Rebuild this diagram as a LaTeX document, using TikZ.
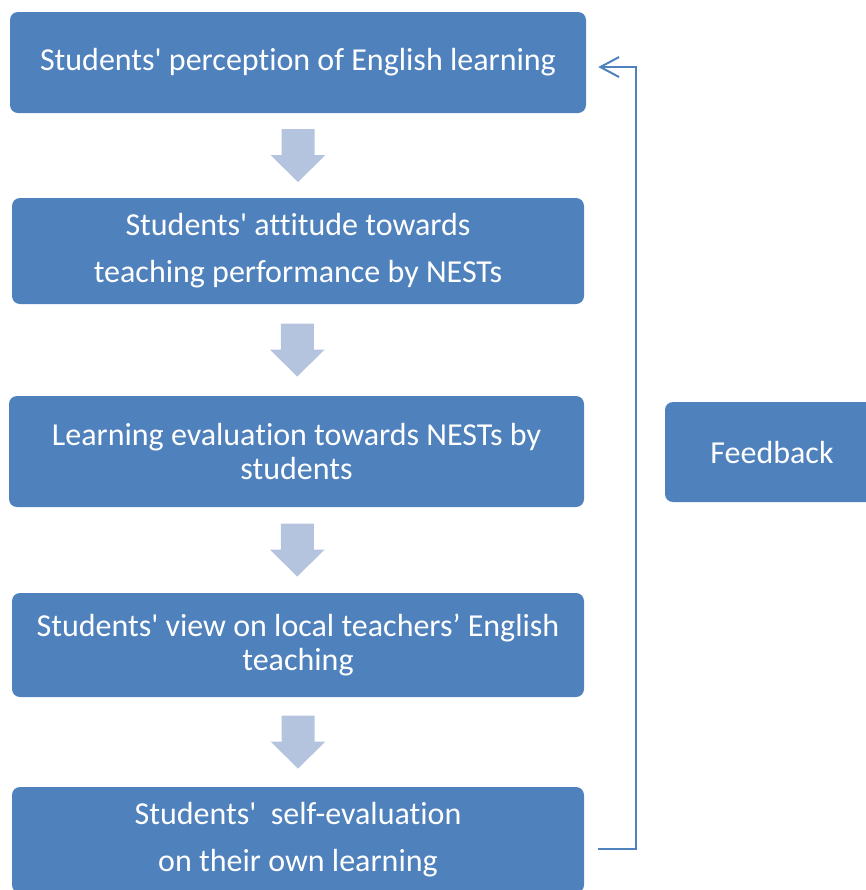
\documentclass[tikz,border=0pt]{standalone}
\usepackage{fontspec}
\setmainfont{Carlito}[Ligatures={TeX,NoCommon}]
\usetikzlibrary{arrows.meta,calc}
\definecolor{boxblue}{HTML}{4F81BD}
\definecolor{arrowblue}{HTML}{B4C4DF}
\newcommand\sq{\textquotesingle}

\tikzset{
  stage/.style={fill=boxblue, rounded corners=6pt, text=white, align=center,
    font=\fontsize{24}{25.5}\selectfont, inner sep=0pt},
  downarrow/.style={fill=arrowblue},
  fbline/.style={draw=boxblue, line width=1.5pt},
}

\begin{document}
\begin{tikzpicture}[x=0.75pt,y=-0.75pt]
\useasboundingbox (0,0) rectangle (865,890);
\node[stage, minimum width=432pt, minimum height=75.75pt] (b1) at (298,62.5)
  {Students\sq{} perception of English learning};
\node[stage, minimum width=429pt, minimum height=79.5pt] (b2) at (298,251)
  {Students\sq{} attitude towards\\[9.75pt]teaching performance by NESTs};
\node[stage, minimum width=431.25pt, minimum height=83.25pt] (b3) at (296.5,451.5)
  {Learning evaluation towards NESTs by\\students};
\node[stage, minimum width=429pt, minimum height=78pt] (b4) at (298,645)
  {Students\sq{} view on local teachers’ English\\teaching};
\node[stage, minimum width=429pt, minimum height=79.5pt] (b5) at (298,840)
  {Students\sq\ \ self-evaluation\\[9.75pt]on their own learning};
\node[stage, minimum width=160.5pt, minimum height=75pt] (fb) at (772,452)
  {Feedback};

% block arrows between the stages
\foreach \a/\b in {b1/b2,b2/b3,b3/b4,b4/b5}
  \fill[downarrow] ($(\a.south)!0.5!(\b.north)$) ++(-16.5,-26.5) -- ++(33,0)
    -- ++(0,26) -- ++(11,0) -- ++(-27.5,27) -- ++(-27.5,-27) -- ++(11,0) -- cycle;

% feedback loop
\draw[fbline, -{Straight Barb[length=14pt,width=15pt]}]
  ([xshift=10.5pt,yshift=-6.4pt]b5.east) -- ++(38,0)
  |- ([xshift=9pt,yshift=-3.4pt]b1.east);
\end{tikzpicture}
\end{document}
